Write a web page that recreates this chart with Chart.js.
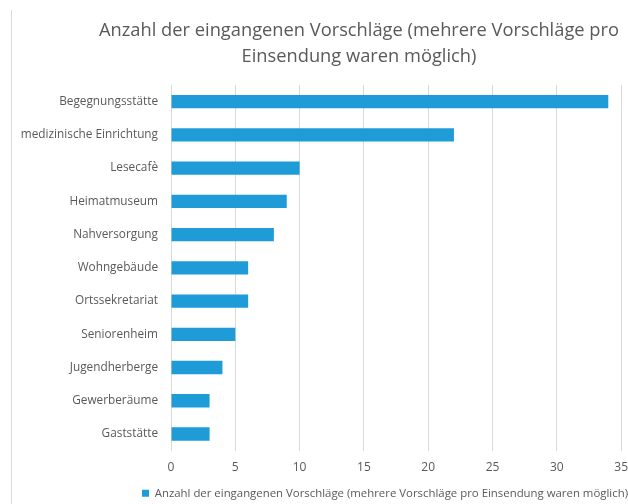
<!DOCTYPE html>
<html>
<head>
<meta charset="utf-8">
<script src="https://cdn.jsdelivr.net/npm/chart.js@4"></script>
<style>
  html, body { margin: 0; padding: 0; background: #fff; }
  #wrap { width: 628px; height: 504px; }
</style>
</head>
<body>
<div id="wrap"><canvas id="chart" width="628" height="504"></canvas></div>
<script>
// Daten
var chartTitle = ["Anzahl der eingangenen Vorschläge (mehrere Vorschläge pro", "Einsendung waren möglich)"];
var seriesName = "Anzahl der eingangenen Vorschläge (mehrere Vorschläge pro Einsendung waren möglich)";
var categories = ["Begegnungsstätte", "medizinische Einrichtung", "Lesecafè", "Heimatmuseum", "Nahversorgung",
  "Wohngebäude", "Ortssekretariat", "Seniorenheim", "Jugendherberge", "Gewerberäume", "Gaststätte"];
var values = [34, 22, 10, 9, 8, 6, 6, 5, 4, 3, 3];
var xMin = 0, xMax = 35, xStep = 5;

var textColor = "#595959";
var gridColor = "#d9d9d9";
var fontFamily = "'Open Sans', 'DejaVu Sans', sans-serif";

// Titel und Rahmenlinie selbst zeichnen (Titel sitzt nicht mittig im Canvas)
var framePlugin = {
  id: "frame",
  beforeDraw: function(chart) {
    var ctx = chart.ctx;
    ctx.save();
    ctx.strokeStyle = gridColor;
    ctx.lineWidth = 1;
    ctx.beginPath();
    ctx.moveTo(11.5, 10);
    ctx.lineTo(11.5, 504);
    ctx.stroke();
    ctx.fillStyle = textColor;
    ctx.font = "18.3px " + fontFamily;
    ctx.textAlign = "center";
    ctx.textBaseline = "middle";
    ctx.fillText(chartTitle[0], 359, 31);
    ctx.fillText(chartTitle[1], 359, 57);
    ctx.restore();
  }
};

var ctx = document.getElementById("chart").getContext("2d");
var chart = new Chart(ctx, {
  type: "bar",
  data: {
    labels: categories,
    datasets: [{
      label: seriesName,
      data: values,
      backgroundColor: "#1f9cd8",
      borderWidth: 0,
      barPercentage: 0.4,
      categoryPercentage: 1.0
    }]
  },
  options: {
    indexAxis: "y",
    responsive: false,
    animation: false,
    layout: { padding: { left: 11, right: 0, top: 85, bottom: -5 } },
    plugins: {
      title: { display: false },
      tooltip: { enabled: false },
      legend: {
        position: "bottom",
        align: "end",
        labels: {
          color: textColor,
          font: { family: fontFamily, size: 11.4 },
          boxWidth: 7,
          boxHeight: 7,
          padding: 0
        }
      }
    },
    scales: {
      x: {
        min: xMin,
        max: xMax,
        ticks: { stepSize: xStep, color: textColor, font: { family: fontFamily, size: 12 }, padding: 0 },
        grid: { color: gridColor, drawTicks: true, tickLength: 10, tickColor: "rgba(0,0,0,0)" },
        border: { display: false },
        afterFit: function(scale) { scale.height = 37; }
      },
      y: {
        ticks: { color: textColor, font: { family: fontFamily, size: 11.8 }, padding: 13 },
        grid: { display: false, drawTicks: false },
        border: { display: false },
        afterFit: function(scale) { scale.width = 160; }
      }
    }
  },
  plugins: [framePlugin]
});
</script>
</body>
</html>
